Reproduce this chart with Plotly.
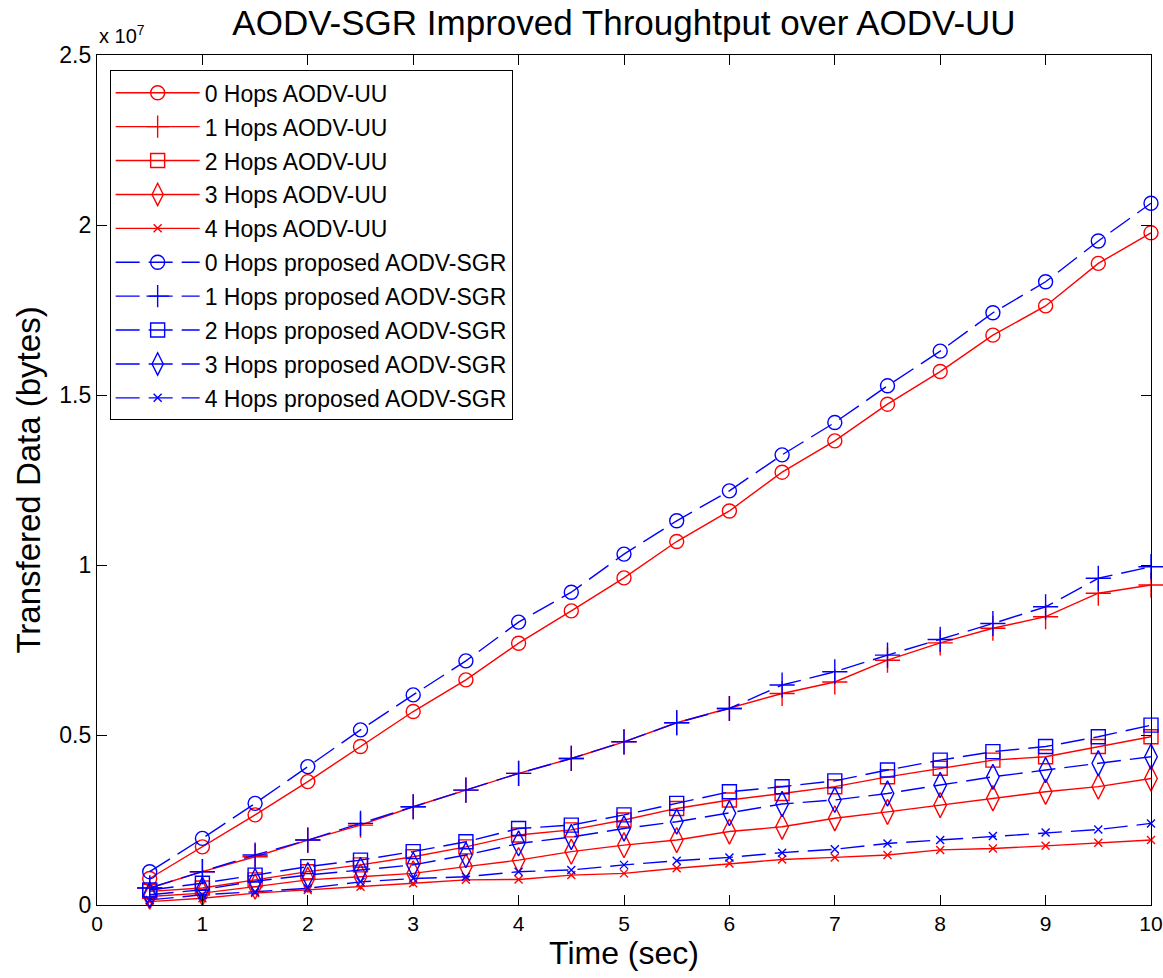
import plotly.graph_objects as go

time_s = [0.5, 1, 1.5, 2, 2.5, 3, 3.5, 4, 4.5, 5, 5.5, 6, 6.5, 7, 7.5, 8, 8.5, 9, 9.5, 10]

# values in units of 1e7 bytes
uu_0 = [0.078, 0.171, 0.265, 0.363, 0.466, 0.569, 0.662, 0.770, 0.865, 0.962, 1.069, 1.159, 1.273, 1.365, 1.473, 1.569, 1.676, 1.762, 1.887, 1.977]
uu_1 = [0.050, 0.098, 0.142, 0.191, 0.235, 0.289, 0.338, 0.387, 0.431, 0.480, 0.536, 0.578, 0.622, 0.656, 0.720, 0.771, 0.814, 0.848, 0.917, 0.941]
uu_2 = [0.040, 0.050, 0.074, 0.098, 0.118, 0.142, 0.171, 0.206, 0.221, 0.250, 0.284, 0.309, 0.328, 0.348, 0.377, 0.402, 0.426, 0.436, 0.466, 0.495]
uu_3 = [0.025, 0.035, 0.054, 0.074, 0.083, 0.093, 0.113, 0.132, 0.157, 0.176, 0.191, 0.216, 0.230, 0.255, 0.274, 0.294, 0.314, 0.333, 0.348, 0.372]
uu_4 = [0.010, 0.020, 0.035, 0.044, 0.054, 0.064, 0.074, 0.075, 0.088, 0.093, 0.108, 0.122, 0.134, 0.140, 0.147, 0.162, 0.166, 0.174, 0.183, 0.191]

sgr_0 = [0.098, 0.196, 0.299, 0.407, 0.515, 0.618, 0.718, 0.832, 0.920, 1.032, 1.130, 1.218, 1.324, 1.419, 1.527, 1.629, 1.742, 1.833, 1.953, 2.064]
sgr_1 = [0.050, 0.098, 0.147, 0.191, 0.240, 0.289, 0.338, 0.387, 0.431, 0.480, 0.536, 0.578, 0.647, 0.686, 0.735, 0.781, 0.828, 0.877, 0.961, 0.995]
sgr_2 = [0.044, 0.064, 0.088, 0.113, 0.132, 0.157, 0.186, 0.225, 0.235, 0.265, 0.299, 0.333, 0.348, 0.365, 0.397, 0.426, 0.451, 0.466, 0.495, 0.529]
sgr_3 = [0.030, 0.045, 0.070, 0.088, 0.103, 0.118, 0.147, 0.181, 0.200, 0.225, 0.245, 0.270, 0.297, 0.309, 0.328, 0.353, 0.377, 0.397, 0.417, 0.436]
sgr_4 = [0.015, 0.030, 0.039, 0.049, 0.068, 0.078, 0.083, 0.098, 0.103, 0.118, 0.130, 0.140, 0.154, 0.164, 0.181, 0.191, 0.203, 0.213, 0.222, 0.240]

SCALE = 1e7
names_uu = ["0 Hops AODV-UU", "1 Hops AODV-UU", "2 Hops AODV-UU", "3 Hops AODV-UU", "4 Hops AODV-UU"]
names_sgr = ["0 Hops proposed AODV-SGR", "1 Hops proposed AODV-SGR", "2 Hops proposed AODV-SGR",
             "3 Hops proposed AODV-SGR", "4 Hops proposed AODV-SGR"]
y_ticks = [0, 0.5, 1, 1.5, 2, 2.5]
y_tick_text = ["0", "0.5", "1", "1.5", "2", "2.5"]
x_ticks = [0, 1, 2, 3, 4, 5, 6, 7, 8, 9, 10]

symbols = ["circle-open", "cross-thin-open", "square-open", "diamond-tall-open", "x-thin-open"]
sizes = [14, 18, 14, 18, 8]

fig = go.Figure()
for i, (nm, ys) in enumerate(zip(names_uu, [uu_0, uu_1, uu_2, uu_3, uu_4])):
    fig.add_trace(go.Scatter(
        x=time_s, y=[v * SCALE for v in ys], name=nm, mode="lines+markers",
        line=dict(color="#ff0000", width=1.4),
        marker=dict(symbol=symbols[i], size=sizes[i], color="#ff0000", line=dict(width=1.4, color="#ff0000")),
        legendgroup=nm, cliponaxis=False))
for i, (nm, ys) in enumerate(zip(names_sgr, [sgr_0, sgr_1, sgr_2, sgr_3, sgr_4])):
    fig.add_trace(go.Scatter(
        x=time_s, y=[v * SCALE for v in ys], name=nm, mode="lines+markers",
        line=dict(color="#0000ff", width=1.4, dash="24px,9px"),
        marker=dict(symbol=symbols[i], size=sizes[i], color="#0000ff", line=dict(width=1.4, color="#0000ff")),
        legendgroup=nm, cliponaxis=False))

font = "Liberation Sans, Arial, sans-serif"
fig.update_layout(
    width=1163, height=978,
    margin=dict(l=97, r=12, t=55, b=73, autoexpand=False),
    paper_bgcolor="white", plot_bgcolor="white",
    font=dict(family=font, size=22, color="black"),
    title=dict(text="AODV-SGR Improved Throughtput over AODV-UU", xref="paper", x=0.5, xanchor="center",
               y=0.977, yanchor="middle", font=dict(size=35, family=font)),
    showlegend=True,
    legend=dict(x=0.012, y=0.982, xanchor="left", yanchor="top",
                bordercolor="black", borderwidth=1, bgcolor="white",
                font=dict(size=23, family=font), itemwidth=84,
                tracegroupgap=1, traceorder="grouped"),
)
fig.update_xaxes(range=[0, 10], tickvals=x_ticks, ticktext=[str(t) for t in x_ticks], automargin=False,
                 ticks="inside", ticklen=10, tickcolor="black", showline=True, linecolor="black",
                 linewidth=1.2, mirror="ticks", showgrid=False, zeroline=False, ticklabeloverflow="allow",
                 tickfont=dict(size=21), title=dict(text="Time (sec)", font=dict(size=32), standoff=6))
fig.update_yaxes(range=[0, 2.5 * SCALE], tickvals=[t * SCALE for t in y_ticks], automargin=False,
                 ticktext=y_tick_text,
                 ticks="inside", ticklen=10, tickcolor="black", showline=True, linecolor="black",
                 linewidth=1.2, mirror="ticks", showgrid=False, zeroline=False, ticklabeloverflow="allow",
                 tickfont=dict(size=23), title=dict(text="Transfered Data (bytes)", font=dict(size=33), standoff=8))
fig.add_annotation(text="x 10<sup>7</sup>", xref="paper", yref="paper", x=0.0, y=1.0,
                   xanchor="left", yanchor="bottom", showarrow=False, font=dict(size=20, family=font), yshift=6)
fig.write_html("out.html", config={"displayModeBar": False},
               post_script="document.body.style.margin='0';")
